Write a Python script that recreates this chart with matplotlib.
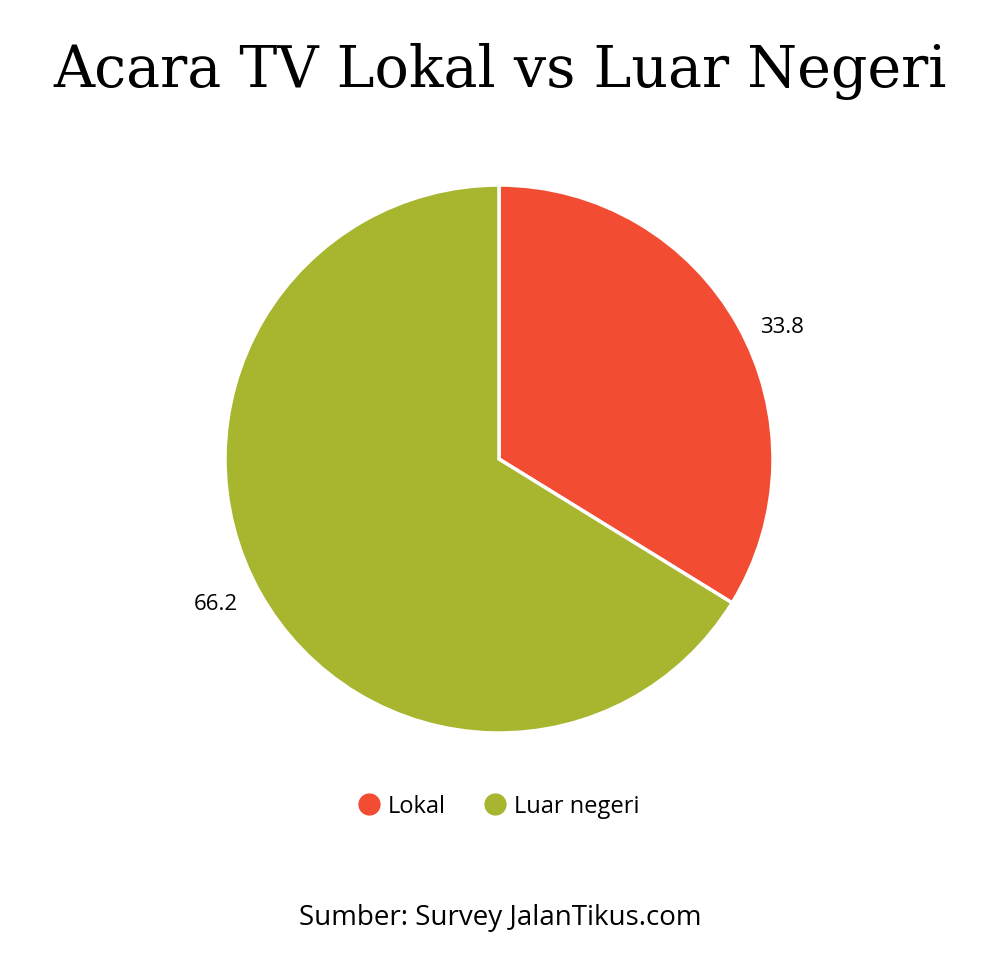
import matplotlib
matplotlib.use("Agg")
from matplotlib import pyplot as plt
from matplotlib.lines import Line2D
import numpy as np

categories = ["Lokal", "Luar negeri"]
values = [33.8, 66.2]
colors = ["#F24C33", "#A8B52F"]
title = "Acara TV Lokal vs Luar Negeri"
source = "Sumber: Survey JalanTikus.com"

plt.rcParams['font.family'] = ['Open Sans', 'DejaVu Sans']

fig = plt.figure(figsize=(10, 9.54), dpi=100)
fig.patch.set_facecolor("white")

ax = fig.add_axes([0.225, 0.2306, 0.548, 0.5744])
wedges, _ = ax.pie(values, colors=colors, startangle=90, counterclock=False,
                   wedgeprops=dict(edgecolor="white", linewidth=2.5))
# value labels, a little below each wedge's middle angle
for w, v in zip(wedges, values):
    ang = np.deg2rad((w.theta1 + w.theta2) / 2 - 3)
    ax.text(1.15 * np.cos(ang), 1.15 * np.sin(ang) - 0.022, f"{v:.1f}",
            ha="center", va="center", fontsize=16, color="black")
ax.set_xlim(-1, 1)
ax.set_ylim(-1, 1)
ax.set_aspect("equal")

fig.text(0.5, 1 - 72 / 954, title, ha="center", va="center",
         fontsize=41, family="DejaVu Serif", color="black")

handles = [Line2D([], [], marker="o", linestyle="none", markersize=15,
                  markerfacecolor=c, markeredgecolor=c) for c in colors]
fig.legend(handles, categories, loc="center", bbox_to_anchor=(0.497, 1 - 807 / 954),
           ncol=2, frameon=False, fontsize=17, handletextpad=0.2,
           columnspacing=1.5, handlelength=1.2)

fig.text(0.5, 1 - 918 / 954, source, ha="center", va="center",
         fontsize=20, color="black")

fig.savefig("out.png", dpi=100)
